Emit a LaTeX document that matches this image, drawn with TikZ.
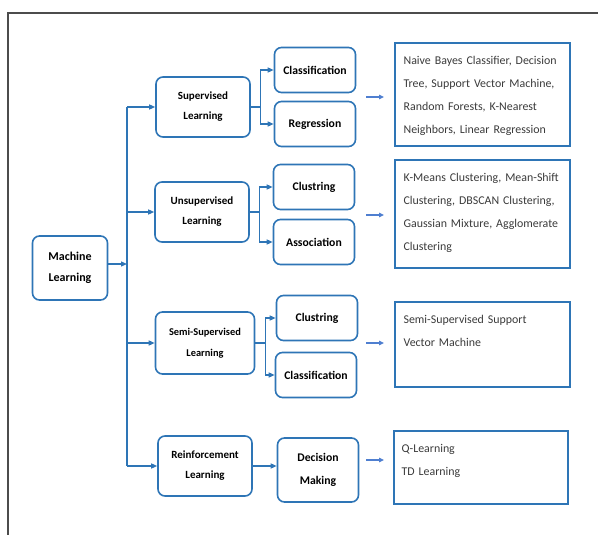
\documentclass[tikz,border=0pt]{standalone}
\usepackage{fontspec}
\setmainfont{Carlito}
\usetikzlibrary{arrows.meta}
\usetikzlibrary{calc}

\definecolor{mlblue}{HTML}{2E75B6}
\definecolor{mllight}{HTML}{4F7FD0}
\definecolor{mltext}{HTML}{3A3A3A}

\tikzset{
  catbox/.style = {draw=mlblue, line width=1.6pt, rounded corners=7pt, inner sep=0pt, align=center,
    minimum width=94pt, minimum height=60pt, font=\fontsize{11}{20}\selectfont\bfseries},
  subbox/.style = {catbox, minimum width=81pt, minimum height=45pt, font=\fontsize{11.7}{23}\selectfont\bfseries},
  listbox/.style = {draw=mlblue, line width=1.2pt, inner sep=0pt, minimum width=175pt},
  listtext/.style = {inner sep=0pt, anchor=north west, align=left, text width=170pt, text=mltext,
    font=\fontsize{11.9}{23}\selectfont},
  link/.style = {draw=mlblue, line width=1.3pt, -{Triangle[length=6pt, width=5pt]}},
  hint/.style = {draw=mllight, line width=1.1pt, -{Triangle[length=5pt, width=4.5pt]}},
}

\begin{document}
\begin{tikzpicture}[x=1pt, y=-1pt]
  \useasboundingbox (0,0) rectangle (598,535);
  % frame
  \draw[black!70, line width=1.2pt] (8,535) -- (8,13) -- (598,13);

  \node[catbox, minimum width=75pt, minimum height=64pt, font=\fontsize{12}{21}\selectfont\bfseries] (ml) at (70,268) {Machine\\Learning};

  % learning types
  \node[catbox] (sup) at (203,107) {Supervised\\Learning};
  \node[catbox] (unsup) at (202,212) {Unsupervised\\Learning};
  \node[catbox, minimum width=99pt, minimum height=62pt, font=\fontsize{10.4}{21}\selectfont\bfseries] (semi) at (205,343) {Semi-Supervised\\Learning};
  \node[catbox] (rein) at (205,466) {Reinforcement\\Learning};

  % tasks
  \node[subbox] (sup-cls) at (315,70) {Classification};
  \node[subbox] (sup-reg) at (315,124) {Regression};
  \node[subbox] (unsup-clu) at (314,187) {Clustring};
  \node[subbox] (unsup-ass) at (314,242) {Association};
  \node[subbox] (semi-clu) at (317,318) {Clustring};
  \node[subbox] (semi-cls) at (316,375) {Classification};
  \node[subbox, minimum height=64pt] (dec) at (318,470) {Decision\\Making};

  % algorithms
  \node[listbox, minimum height=103pt] (sup-list) at (482.5,94.5) {};
  \node[listbox, minimum height=108pt] (unsup-list) at (482.5,214) {};
  \node[listbox, minimum height=85pt] (semi-list) at (482.5,344.5) {};
  \node[listbox, minimum width=174pt, minimum height=73pt] (rein-list) at (481,467.5) {};

  \node[listtext] (sup-txt) at ($(sup-list.north west)+(9,14)$)
    {Naive Bayes Classifier, Decision\\Tree, Support Vector Machine,\\Random Forests, K-Nearest\\Neighbors, Linear Regression};
  \node[listtext] (unsup-txt) at ($(unsup-list.north west)+(9,14)$)
    {K-Means Clustering, Mean-Shift\\Clustering, DBSCAN Clustering,\\Gaussian Mixture, Agglomerate\\Clustering};
  \node[listtext] (semi-txt) at ($(semi-list.north west)+(9,14)$)
    {Semi-Supervised Support\\Vector Machine};
  \node[listtext] (rein-txt) at ($(rein-list.north west)+(8,14)$)
    {Q-Learning\\TD Learning};

  % trunk
  \coordinate (trunk) at (127,264);
  \draw[link] (ml.east |- trunk) -- (trunk);
  \draw[mlblue, line width=1.3pt] (trunk |- sup.west) -- (trunk |- rein.west);
  \foreach \n in {sup, unsup, semi, rein} {
    \draw[link] (trunk |- \n.west) -- (\n.west);
  }

  % branches
  \foreach \p/\a/\b in {sup/sup-cls/sup-reg, unsup/unsup-clu/unsup-ass, semi/semi-clu/semi-cls} {
    \coordinate (\p-split) at ($(\p.east)+(10,0)$);
    \draw[mlblue, line width=1.3pt] (\p.east) -- (\p-split);
    \draw[link] (\p-split) |- (\a.west);
    \draw[link] (\p-split) |- (\b.west);
  }
  \draw[link] (rein.east) -- (rein.east -| dec.west);

  % pointers to the algorithm boxes
  \foreach \n/\y in {sup/97, unsup/215, semi/343, rein/460} {
    \coordinate (\n-a) at (366,\y);
    \coordinate (\n-b) at (384,\y);
    \draw[hint] (\n-a) -- (\n-b);
  }
\end{tikzpicture}
\end{document}
